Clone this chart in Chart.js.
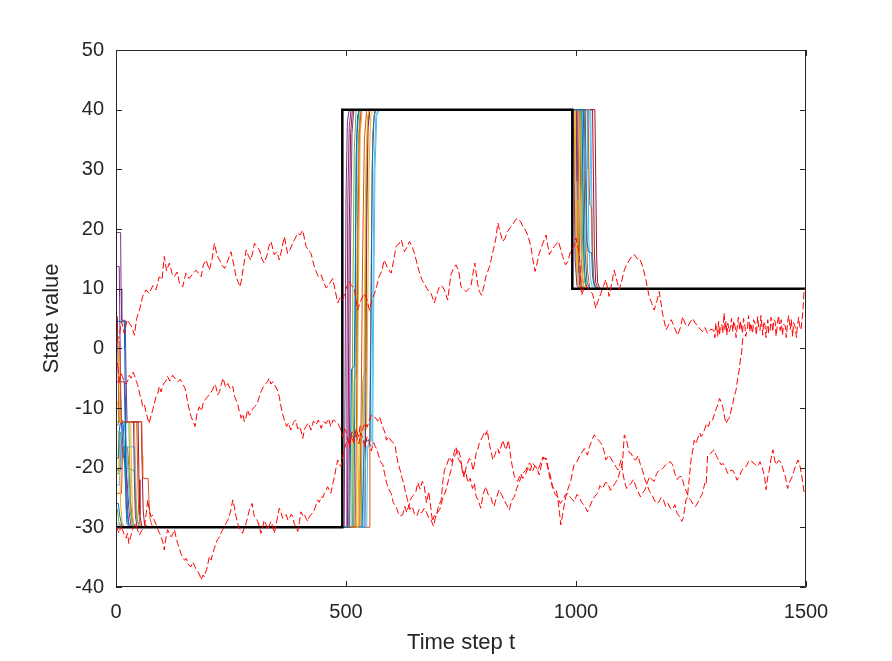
<!DOCTYPE html>
<html>
<head>
<meta charset="utf-8">
<script src="https://cdn.jsdelivr.net/npm/chart.js@4.4.1/dist/chart.umd.min.js"></script>
<style>
  body { margin: 0; background: #fff; }
  #wrap { width: 892px; height: 661px; }
</style>
</head>
<body>
<div id="wrap"><canvas id="chart" width="892" height="661"></canvas></div>
<script>
const xTicks = [0, 500, 1000, 1500];
const yTicks = [-40, -30, -20, -10, 0, 10, 20, 30, 40, 50];

// true state (black step)
const truth = [[0, -30], [492, -30], [492, 40], [992, 40], [992, 10], [1500, 10]];

// noisy measurements (red dashed), [t, value]
const redUpper = [
  [0,1],[7,2],[12,4.5],[18,2.5],[24,4.8],[29,4.2],[35,3.5],[40,2.2],[45,5],[51,6.4],[58,8.7],[65,9.8],[72,9.2],[80,10.5],[87,9.8],[94,12],[100,11.5],[105,15.4],[110,13],[116,14.3],[122,12.5],[127,12],[133,12.8],[138,10.9],[145,10.3],[152,12.6],[159,11.7],[166,12.4],[174,13.1],[180,12.5],[185,12],[190,14],[196,14.8],[203,13.1],[209,15],[214,17.6],[220,15.5],[225,14.8],[230,14],[236,13.4],[242,14.5],[250,16.2],[256,14],[261,12],[266,11],[270,10.3],[275,12.6],[283,16.5],[288,15.5],[293,14.8],[297,16],[301,17.6],[307,17],[312,16.5],[317,15],[322,14.3],[328,15.5],[332,17],[337,17.9],[344,15.7],[350,16.2],[355,14.8],[360,16.5],[366,18.7],[373,15.9],[378,16.5],[384,17.6],[390,18.5],[395,19.3],[400,19],[406,19.8],[413,17.1],[418,16.5],[424,15.9],[430,14],[435,12.9],[440,12],[446,12.3],[452,11],[457,10.1],[464,10.8],[471,11.7],[477,9.5],[482,7.6],[487,8.5],[493,8.1],[500,10],[507,11.2],[512,10.5],[518,10.1],[522,8],[525,6.4],[532,8],[540,9.2],[545,8.3],[551,6.4],[556,8],[562,9.2],[567,10.5],[572,12],[578,13],[583,14.8],[590,13.5],[598,12.6],[603,14.5],[609,17.1],[615,17.5],[620,18.2],[627,16.2],[633,17],[638,17.9],[644,17],[649,15.9],[655,14],[659,12.9],[665,11.5],[670,10.9],[676,10],[680,9.5],[685,9.2],[692,7.6],[697,9],[703,10.3],[708,10.5],[714,9.8],[721,8.1],[728,12.3],[734,13.5],[739,14],[745,13],[750,10.3],[755,10],[761,9.5],[767,10],[772,10.6],[780,14.3],[786,10.9],[790,9.5],[795,8.9],[800,10.5],[804,12],[812,13.7],[816,15],[821,16.8],[826,18.5],[830,21],[835,19.5],[841,17.9],[846,18.5],[851,19.6],[857,20.2],[862,20.7],[868,21.5],[873,21.8],[880,21.2],[884,20.5],[888,20.1],[895,19],[902,17.1],[906,15],[911,12.9],[916,14.5],[920,15.9],[928,17.6],[935,19],[942,15.7],[948,16.5],[953,17.1],[962,17.9],[967,16.5],[971,15.4],[977,14],[982,14.5],[989,16.5],[995,17],[1000,18.5],[1007,15.9],[1012,8.9],[1017,10],[1022,10.6],[1030,9.5],[1036,9.2],[1043,6.7],[1048,8],[1054,9.2],[1060,10.5],[1065,11.5],[1072,8.7],[1078,11],[1083,13.1],[1090,11],[1094,9.8],[1100,11.5],[1105,13.1],[1110,14],[1116,14.8],[1122,15.5],[1127,15.7],[1133,15],[1138,15.1],[1145,13.7],[1152,11.5],[1159,8.7],[1165,7.5],[1170,6.4],[1176,8],[1181,9.5],[1188,5.9],[1192,4.5],[1196,3.1],[1202,4],[1207,4.8],[1214,3.5],[1221,2.2],[1227,3.5],[1232,5.3],[1238,4],[1243,3.6],[1249,4.5],[1254,5],[1259,4.2],[1264,3.9],[1270,3.2],[1275,2.8],[1280,3.5],[1286,2.5],[1293,3.2],[1300,3],
  [1302,1.8],[1304,4.2],[1306,3.5],[1308,2],[1310,4.5],[1312,2.2],[1314,3.8],[1317,4],[1319,2.5],[1322,5.9],[1324,3],[1326,4.5],[1328,2.2],[1330,4.2],[1333,2.8],[1336,3.5],[1338,5],[1341,2.8],[1343,4.6],[1346,3.6],[1348,1.8],[1351,3.9],[1353,5.2],[1356,3],[1358,4.5],[1362,2.5],[1364,5],[1367,4],[1369,2],[1373,3.6],[1375,5.5],[1378,2.8],[1380,4.2],[1384,2.5],[1386,4.8],[1390,4],[1392,2.2],[1395,5.3],[1397,3.5],[1400,3],[1402,5.5],[1406,2.2],[1408,4.5],[1411,3.8],[1413,1.8],[1417,4.8],[1419,2.5],[1422,3],[1424,5.2],[1428,2.8],[1430,4.8],[1433,4.5],[1435,2],[1438,4.2],[1440,5.5],[1444,3],[1446,4.8],[1449,2.2],[1451,4],[1455,3.8],[1457,1.8],[1460,4.2],[1462,5.5],[1466,3.2],[1468,4.8],[1471,2],[1473,4.3],[1477,3.5],[1479,1.8],[1482,4.2],[1484,5.2],[1486,3.8],[1489,3.1],[1493,6],[1496,9.8],[1500,10.3]
];

const redMiddle = [
  [0,-3.6],[4,-2.5],[7,-5.9],[10,-4],[14,-4.7],[19,-6],[25,-5.6],[29,-4.5],[33,-5],[37,-4],[40,-4.5],[44,-5.5],[47,-6.1],[52,-7.8],[55,-8.5],[58,-9.8],[62,-9.5],[65,-10.6],[68,-11.5],[72,-12.6],[76,-11.3],[80,-10.3],[84,-9],[87,-8.1],[91,-7.5],[94,-6.4],[98,-7.3],[103,-6],[108,-5.5],[112,-4.7],[117,-5.5],[123,-4.5],[128,-5],[134,-5.6],[140,-5.2],[145,-6.1],[149,-6.5],[152,-7.3],[156,-9.2],[160,-10.5],[163,-11.4],[168,-12.3],[172,-13.1],[176,-11],[181,-9.8],[186,-10.5],[190,-9],[195,-8.5],[199,-8.1],[205,-7.5],[210,-7],[214,-6],[217,-6.4],[221,-7.8],[225,-7.3],[229,-6],[233,-5],[238,-6.5],[243,-5.9],[248,-6.8],[254,-6.4],[258,-8.1],[264,-9.2],[268,-10.5],[272,-11.7],[276,-11],[279,-12.3],[283,-11.5],[286,-10.3],[290,-11.2],[293,-10.9],[297,-10.2],[301,-9.8],[305,-9.5],[308,-9],[312,-8],[315,-7.3],[320,-6.5],[326,-5.9],[330,-5.5],[333,-5],[337,-6],[341,-5.6],[346,-6.3],[351,-7],[355,-8.1],[358,-9.5],[362,-10.9],[366,-12],[371,-13.1],[375,-12.5],[380,-13.7],[386,-12.4],[391,-12],[395,-13.5],[399,-13.1],[403,-14],[406,-15.1],[410,-13.5],[413,-13.1],[418,-12.5],[424,-13.7],[429,-12.2],[435,-12.8],[440,-12],[446,-13.4],[451,-12.3],[457,-12.6],[462,-11.8],[467,-13.1],[472,-12],[478,-12.3],[482,-12.5],[486,-13.1],[490,-14],[493,-14.8],[497,-13.5],[500,-14],
  [504,-15.5],[507,-16.2],[512,-14.8],[517,-15.8],[522,-14.5],[528,-16],[532,-14.2],[536,-15],[541,-16.5],[546,-14.8],[550,-15.5],[555,-17.2],[560,-15.8],[564,-16.5],[567,-16.9],[571,-18],[575,-19],[580,-19.5],[584,-21],[588,-22.5],[592,-23.5],[598,-24.3],[603,-25.9],[609,-26.5],[613,-27.5],[617,-28.1],[623,-27.9],[628,-26.5],[632,-27.5],[638,-26],[642,-25],[646,-24.7],[652,-24],[656,-22.5],[661,-23.6],[666,-22.3],[670,-23],[675,-25.9],[680,-24],[684,-26.5],[688,-29],[692,-28],[696,-28.2],[701,-26.5],[707,-25.4],[711,-22],[714,-20.4],[719,-19.5],[725,-18.2],[730,-19],[735,-17.5],[739,-16.5],[744,-18.5],[750,-19.3],
  [755,-21.5],[760,-20.5],[765,-22.5],[770,-21.8],[775,-23.5],[779,-22.6],[783,-24.9],[788,-25.5],[793,-26.8],[798,-24.5],[804,-23.2],[809,-24.5],[815,-24.9],[818,-25.8],[822,-26.5],[827,-25],[833,-23.7],[838,-24.5],[844,-25.4],[849,-26.2],[855,-27.1],[860,-25.5],[866,-24.9],[871,-23.5],[877,-22.3],[881,-21.5],[884,-21],[890,-20.5],[895,-19.8],[900,-20.5],[906,-19.3],[912,-19.8],[917,-20.4],[922,-19.5],[928,-18.2],[935,-18.7],[940,-20.5],[944,-22],[950,-23.5],[955,-24.5],[960,-24.9],[966,-26],[971,-25.4],[977,-24.5],[982,-24.3],[988,-25],[996,-25.7],[1002,-24.5],[1007,-24.9],[1012,-25.8],[1018,-26.3],[1025,-27.4],[1030,-26.5],[1036,-25.4],[1041,-24.8],[1047,-24.3],[1052,-23],[1058,-23.5],[1064,-22.5],[1069,-22.6],[1075,-23.8],[1080,-23.2],[1086,-22.5],[1091,-21.8],[1096,-20.5],[1101,-19.3],[1105,-14.5],
  [1110,-15.5],[1112,-16.2],[1116,-17.5],[1120,-17.6],[1125,-18.5],[1130,-18.7],[1135,-18],[1140,-19.5],[1145,-20.5],[1150,-22],[1155,-23],[1160,-24],[1165,-24.5],[1170,-25.4],[1175,-26],[1180,-25.8],[1185,-25],[1190,-25.4],[1195,-26.5],[1200,-26],[1205,-26.8],[1210,-27],[1215,-26.2],[1220,-27.7],[1225,-28.2],[1230,-29],[1233,-28.5],[1236,-27],[1239,-25.4],[1242,-25],[1246,-22],[1250,-18.7],[1254,-17],[1257,-15.4],[1261,-16],[1265,-15],[1269,-14.2],[1272,-14.8],[1276,-14.3],[1280,-13.5],[1284,-12.6],[1288,-13.1],[1292,-12],[1297,-12],[1301,-11],[1304,-10.3],[1308,-9.5],[1312,-8.4],[1316,-9],[1319,-9.8],[1323,-11.5],[1326,-12.6],[1330,-12],[1333,-11.7],[1337,-10.5],[1341,-9.2],[1344,-8],[1348,-7],[1351,-5.3],[1355,-3.5],[1358,-1.5],[1360,-0.8],[1363,2.2]
];

const redLower = [
  [0,-29.9],[4,-30.5],[7,-31],[11,-29.5],[14,-30.4],[18,-31.2],[22,-31.8],[25,-31],[28,-32.7],[32,-31.5],[36,-30.4],[40,-29.8],[43,-29.3],[47,-30.5],[51,-31.3],[56,-30.5],[62,-29.9],[66,-27.5],[69,-25.4],[72,-26.8],[76,-28.2],[80,-28],[83,-28.8],[87,-29.5],[91,-30.4],[95,-31],[98,-31.6],[102,-32.5],[105,-33.8],[108,-32],[112,-30.4],[116,-31],[120,-31.6],[124,-31],[127,-30.4],[131,-31.8],[134,-32.7],[138,-33.5],[141,-34.4],[145,-35],[149,-35.5],[153,-35.2],[156,-36],[160,-36.5],[163,-36.6],[167,-35.8],[170,-36.3],[174,-37],[178,-37.4],[182,-38],[185,-38.8],[189,-38],[192,-38.3],[195,-37.5],[197,-37.1],[200,-36],[203,-34.9],[207,-35.5],[210,-34.4],[214,-33.5],[217,-32.7],[221,-32],[225,-31.6],[229,-30.8],[232,-30.4],[236,-29.8],[239,-29.3],[243,-28.8],[246,-28.2],[250,-27],[254,-25.4],[257,-26.5],[261,-28.2],[265,-29.5],[268,-30.2],[272,-30.5],[275,-31],[279,-30],[283,-29.3],[287,-28],[290,-27.1],[293,-26.5],[296,-26],[299,-27.5],[301,-28.2],[305,-28.5],[308,-29],[312,-30],[315,-31],[319,-30],[322,-28.8],[326,-29.5],[330,-30.4],[334,-29.5],[337,-29],[341,-30],[344,-31],[348,-29.5],[352,-28],[355,-26.8],[359,-27.5],[362,-28.5],[366,-28],[370,-27.9],[374,-28.8],[377,-28.5],[381,-27.8],[384,-28.2],[388,-29.5],[392,-30],[395,-30.7],[399,-29],[402,-27.4],[406,-28],[409,-27.7],[413,-28.5],[417,-29],[420,-28.2],[424,-27.9],[428,-27.5],[431,-27.1],[435,-26.2],[438,-25.4],[442,-25.8],[446,-24.9],[450,-25],[453,-24.3],[457,-23.8],[460,-23.2],[464,-23.8],[467,-24.3],[471,-22.8],[475,-21.5],[478,-20.2],[482,-18.7],[486,-19.5],[489,-19.8],[493,-18.2],[496,-17],[500,-16],
  [504,-15],[508,-16.5],[513,-14],[518,-15.5],[522,-13.5],[527,-14.8],[531,-13],[536,-13.7],[541,-12.5],[546,-13.2],[551,-12],[555,-11.2],[560,-11.5],[565,-11.7],[569,-12.2],[573,-11.5],[578,-12.8],[581,-13.4],[585,-14.2],[588,-15.4],[593,-14.8],[598,-15.5],[603,-15.8],[607,-16.5],[610,-18],[614,-19.5],[618,-20.5],[622,-21.8],[625,-22.5],[629,-24],[634,-25.5],[639,-27],[644,-26.5],[649,-27.8],[654,-28.1],[659,-27],[664,-27.6],[670,-26.8],[675,-27.5],[680,-28.5],[685,-28.8],[690,-29.8],[694,-28.5],[699,-27.5],[704,-27],[709,-25.5],[714,-24.5],[718,-23.6],[723,-22],[728,-20.5],[733,-18.6],[738,-17.8],[744,-16.9],[748,-18],
  [750,-19],[754,-20.5],[757,-21.5],[761,-20],[764,-19.3],[768,-18.5],[772,-18.7],[776,-20.5],[779,-19.5],[783,-17.5],[786,-17],[790,-15.9],[793,-15.4],[797,-14.8],[801,-14],[804,-14.5],[807,-13.7],[812,-16.2],[816,-17.5],[819,-18.7],[823,-18],[826,-17.3],[830,-16.8],[833,-17.6],[837,-16.5],[841,-15.4],[845,-16.5],[848,-17],[853,-15.4],[859,-18.7],[862,-20],[866,-21.5],[870,-22],[873,-22.3],[877,-21.5],[880,-21],[884,-21.8],[888,-21.5],[892,-20.8],[895,-20.1],[899,-19.2],[902,-19.5],[906,-20.5],[910,-19.8],[913,-19.8],[917,-20.5],[920,-21.2],[924,-19.8],[928,-18.5],[932,-18.4],[935,-18.4],[939,-19.8],[942,-20.7],[946,-22],[949,-23.2],[953,-23.5],[957,-23.7],[961,-25.5],[964,-27.5],[967,-29.6],[971,-27.8],[975,-26],[978,-24.8],[982,-23.7],[986,-22.8],[989,-22.1],[993,-20.5],[996,-19.5],[1000,-19.2],[1004,-18.7],[1008,-18],[1011,-17.6],[1015,-17.2],[1018,-16.8],[1022,-17.5],[1025,-17.9],[1029,-16.5],[1033,-15.8],[1036,-15.1],[1040,-14.5],[1043,-14.8],[1047,-15.2],[1051,-15.6],[1055,-16],[1058,-16.5],[1062,-17.5],[1065,-18.7],[1069,-18.2],[1072,-17.9],[1076,-18.5],[1080,-19],[1084,-19.5],[1088,-20],[1091,-20.4],[1095,-19.5],[1098,-18.7],
  [1102,-21],[1106,-22.5],[1110,-23.5],[1115,-23],[1120,-22.6],[1125,-22],[1130,-23.2],[1135,-24],[1140,-24.9],[1145,-24.2],[1150,-23.7],[1155,-22.5],[1160,-21.5],[1165,-22],[1170,-22.3],[1175,-21],[1180,-20.5],[1185,-20.4],[1190,-20],[1195,-19.5],[1200,-19.2],[1205,-19],[1210,-19.5],[1215,-21],[1220,-22],[1225,-21.5],[1230,-21.5],[1235,-23],[1240,-24],[1245,-25],[1250,-25.5],[1255,-26.2],[1260,-26.5],[1265,-25.8],[1270,-25],[1275,-24.3],[1280,-22.6],[1283,-22.9],[1286,-18],[1290,-17.8],[1293,-17.6],[1297,-17.2],[1300,-17],[1305,-18],[1310,-18.7],[1315,-19.5],[1320,-19.3],[1325,-20],[1330,-21],[1335,-20.5],[1340,-20.4],[1345,-21],[1350,-22.1],[1355,-21.5],[1360,-20.5],[1365,-20],[1370,-19.8],[1375,-19],[1380,-18.7],[1385,-19.2],[1390,-19.5],[1395,-19.8],[1400,-19],[1405,-20],[1410,-21.5],[1413,-23.7],[1417,-21.5],[1420,-20.5],[1424,-18.5],[1428,-17],[1432,-18.8],[1435,-19.5],[1440,-18.8],[1445,-19],[1450,-20.2],[1455,-21.5],[1460,-23.5],[1464,-22.5],[1470,-21.5],[1474,-20.5],[1478,-19.5],[1483,-18.7],[1487,-19.8],[1490,-21],[1493,-22.5],[1496,-24.3],[1500,-24.6]
];

// estimates of the individual agents, [t, value]
const agent1 = [[0,4.5],[18,4.5],[19,0],[20,-8],[21,-20],[22,-27],[24,-29.5],[30,-30],[508,-30],[510,-15],[512,-3.5],[518,-3],[520,10],[522,32],[525,39],[530,40],[1020,40],[1022,30],[1024,18],[1027,16.2],[1034,16],[1036,12],[1040,10.3],[1046,10],[1500,10]];
const agent2 = [[0,1.1],[8,1.1],[10,-8],[12,-12.3],[45,-12.3],[47,-20],[49,-27],[52,-29.5],[60,-30],[520,-30],[523,-10],[526,20],[529,36],[533,40],[1026,40],[1028,30],[1030,24],[1034,23.7],[1036,15],[1039,11],[1044,10],[1500,10]];
const agent3 = [[0,-1.1],[5,-1.1],[7,-8],[9,-12.3],[32,-12.3],[34,-22],[36,-28],[40,-29.8],[46,-30],[526,-30],[528,-18],[530,-13.2],[538,-13],[540,5],[543,30],[547,39],[552,40],[998,40],[1000,25],[1002,14],[1006,10.5],[1012,10],[1500,10]];
const agent4 = [[0,19.4],[10,19.4],[11,10],[12,5],[13,4.7],[20,4.7],[22,-5],[24,-12.3],[38,-12.3],[40,-22],[42,-28],[46,-30],[496,-30],[498,-5],[500,25],[503,38],[507,40],[994,40],[996,28],[998,15],[1002,10.5],[1008,10],[1500,10]];
const agent5 = [[0,-12.3],[28,-12.3],[30,-20],[32,-27],[35,-29.5],[42,-30],[514,-30],[516,-15],[518,-5],[522,-4.5],[524,15],[527,35],[531,40],[1010,40],[1012,28],[1015,15],[1019,11],[1026,10],[1500,10]];
const agent6 = [[0,-17.6],[10,-17.6],[12,-14],[14,-12.8],[18,-12.5],[22,-16],[25,-19],[28,-24],[32,-28],[38,-29.7],[48,-30],[540,-30],[542,-20],[544,-16.5],[558,-16.2],[560,5],[563,30],[567,39],[572,40],[1030,40],[1032,30],[1034,18],[1037,12],[1042,10.2],[1048,10],[1500,10]];
const agent7 = [[0,5.3],[3,5.3],[5,-5],[7,-12.3],[48,-12.3],[50,-22],[52,-28],[56,-29.8],[62,-30],[541,-30],[543,-10],[545,20],[548,37],[552,40],[1041,40],[1043,28],[1045,15],[1047,11],[1052,10],[1500,10]];
const agent8 = [[0,-18.4],[5,-18.4],[7,-14],[9,-12.6],[16,-12.8],[18,-17],[20,-22],[23,-27],[27,-29.5],[35,-30],[535,-30],[538,-20],[540,-15.5],[552,-15.5],[554,0],[557,30],[561,39],[566,40],[1016,40],[1018,28],[1020,16],[1024,11],[1030,10],[1500,10]];
const agent9 = [[0,-12.9],[4,-12.9],[6,-12.3],[56,-12.3],[57,-18],[58,-21.5],[60,-21.8],[70,-21.8],[72,-26],[74,-28.5],[78,-29.7],[85,-30],[530,-30],[533,-10],[536,15],[540,35],[545,40],[1004,40],[1006,27],[1008,15],[1012,10.5],[1018,10],[1500,10]];
const agent10 = [[0,-14],[6,-14],[8,-20],[10,-26],[13,-29],[18,-30],[528,-30],[530,-20],[532,-14],[545,-13.5],[547,5],[550,30],[554,39],[560,40],[1006,40],[1008,30],[1011,17],[1015,11],[1020,10],[1500,10]];
const agent11 = [[0,13.7],[7,13.7],[9,0],[11,-12],[13,-16],[16,-18],[20,-19],[24,-22],[28,-27],[32,-29.5],[40,-30],[500,-30],[502,-5],[504,25],[507,37],[511,40],[1000,40],[1002,28],[1004,15],[1008,10.5],[1014,10],[1500,10]];
const agent12 = [[0,-21],[6,-21],[8,-16],[10,-14],[14,-15],[18,-19],[22,-20],[40,-20.5],[42,-25],[45,-28.5],[50,-29.8],[58,-30],[511,-30],[513,-15],[515,10],[518,33],[522,40],[1002,40],[1004,26],[1006,14],[1010,10.5],[1016,10],[1500,10]];
const agent13 = [[0,-22.9],[7,-22.9],[9,-20],[12,-17.5],[20,-16.8],[30,-16.5],[40,-16.5],[42,-22],[44,-27],[48,-29.5],[55,-30],[545,-30],[547,-17],[549,-15.8],[556,-15.5],[558,5],[561,30],[565,39],[570,40],[1024,40],[1026,30],[1028,18],[1031,12],[1036,10],[1500,10]];
const agent14 = [[0,-20.4],[10,-20.4],[12,-14],[14,-12.5],[55,-12.3],[57,-20],[59,-27],[62,-29.5],[70,-30],[503,-30],[505,-10],[507,20],[510,36],[514,40],[1036,40],[1038,28],[1040,16],[1043,11],[1048,10],[1500,10]];
const agent15 = [[0,-26],[5,-26],[8,-28],[12,-29.5],[20,-30],[517,-30],[519,-10],[521,20],[524,36],[528,40],[1013,40],[1015,28],[1017,15],[1021,10.5],[1027,10],[1500,10]];
const agent16 = [[0,-24.3],[12,-24.3],[14,-18],[16,-16.5],[25,-16.5],[28,-20],[32,-26],[36,-29],[42,-29.9],[48,-30],[550,-30],[552,-12],[555,15],[558,36],[563,40],[1018,40],[1020,30],[1022,22],[1025,13],[1030,10],[1500,10]];
const agent17 = [[0,-9],[4,-9],[6,-12.3],[40,-12.3],[42,-18],[44,-25],[47,-29],[52,-29.9],[58,-30],[523,-30],[525,-10],[528,18],[531,36],[535,40],[996,40],[998,27],[1000,15],[1004,10.5],[1010,10],[1500,10]];
const agent18 = [[0,-5.6],[18,-5.6],[20,-12],[22,-20],[25,-27],[28,-29.5],[35,-30],[506,-30],[508,-10],[510,18],[513,36],[517,40],[1008,40],[1010,26],[1012,14],[1016,10.5],[1022,10],[1500,10]];
const agent19 = [[0,-27],[3,-27],[6,-29],[10,-30],[533,-30],[535,-12],[537,-5],[541,-4],[543,15],[546,35],[550,40],[1012,40],[1014,30],[1016,20],[1019,12],[1024,10],[1500,10]];
const agent20 = [[0,-29.3],[3,-29.3],[6,-30],[537,-30],[540,-10],[543,20],[547,37],[552,40],[1032,40],[1034,28],[1036,16],[1039,11],[1044,10],[1500,10]];

const agents = [agent1, agent2, agent3, agent4, agent5, agent6, agent7, agent8, agent9, agent10,
  agent11, agent12, agent13, agent14, agent15, agent16, agent17, agent18, agent19, agent20];
const palette = ["#0072BD", "#D95319", "#EDB120", "#7E2F8E", "#77AC30", "#4DBEEE", "#A2142F"];

const AXIS = "#262626";
const FONT = "'Liberation Sans', Arial, sans-serif";

const toXY = (pts) => pts.map(p => ({x: p[0], y: p[1]}));

const redDataset = (pts) => ({
  data: toXY(pts),
  borderColor: "#ff0000",
  borderWidth: 1,
  borderDash: [7, 3],
  pointRadius: 0,
  order: 0
});

const datasets = [
  redDataset(redUpper),
  redDataset(redMiddle),
  redDataset(redLower),
  {
    data: toXY(truth),
    borderColor: "#000000",
    borderWidth: 2.5,
    pointRadius: 0,
    order: 1
  }
];

agents.forEach((a, i) => {
  datasets.push({
    data: toXY(a),
    borderColor: palette[i % palette.length],
    borderWidth: 1,
    pointRadius: 0,
    order: 2
  });
});

// box around the plot with inward tick marks on all four sides
const boxPlugin = {
  id: "box",
  afterDraw(chart) {
    const {ctx, chartArea: a, scales} = chart;
    const len = 6;
    ctx.save();
    ctx.strokeStyle = AXIS;
    ctx.lineWidth = 1;
    ctx.beginPath();
    ctx.rect(a.left + 0.5, a.top + 0.5, a.right - a.left - 1, a.bottom - a.top - 1);
    scales.x.ticks.forEach(t => {
      const px = Math.round(scales.x.getPixelForValue(t.value)) + 0.5;
      ctx.moveTo(px, a.bottom);
      ctx.lineTo(px, a.bottom - len);
      ctx.moveTo(px, a.top);
      ctx.lineTo(px, a.top + len);
    });
    scales.y.ticks.forEach(t => {
      const py = Math.round(scales.y.getPixelForValue(t.value)) + 0.5;
      ctx.moveTo(a.left, py);
      ctx.lineTo(a.left + len, py);
      ctx.moveTo(a.right, py);
      ctx.lineTo(a.right - len, py);
    });
    ctx.stroke();
    ctx.restore();
  }
};

new Chart(document.getElementById("chart"), {
  type: "line",
  data: {datasets: datasets},
  options: {
    responsive: false,
    animation: false,
    devicePixelRatio: 1,
    layout: {padding: {top: 50, right: 86, bottom: 0, left: 0}},
    elements: {line: {tension: 0}},
    plugins: {legend: {display: false}, tooltip: {enabled: false}},
    scales: {
      x: {
        type: "linear",
        min: 0,
        max: 1500,
        afterBuildTicks: s => { s.ticks = xTicks.map(v => ({value: v})); },
        afterFit: s => { s.height = 74; },
        grid: {display: false, drawTicks: false},
        border: {display: false},
        ticks: {color: AXIS, font: {family: FONT, size: 20}, padding: 13, maxRotation: 0, callback: v => String(v)},
        title: {display: true, text: "Time step t", color: AXIS, font: {family: FONT, size: 22}, padding: {top: 0, bottom: 5}}
      },
      y: {
        type: "linear",
        min: -40,
        max: 50,
        afterBuildTicks: s => { s.ticks = yTicks.map(v => ({value: v})); },
        afterFit: s => { s.width = 116; },
        grid: {display: false, drawTicks: false},
        border: {display: false},
        ticks: {color: AXIS, font: {family: FONT, size: 20}, padding: 12, callback: v => String(v)},
        title: {display: true, text: "State value", color: AXIS, font: {family: FONT, size: 22}, padding: {top: 39, bottom: 0}}
      }
    }
  },
  plugins: [boxPlugin]
});
</script>
</body>
</html>
